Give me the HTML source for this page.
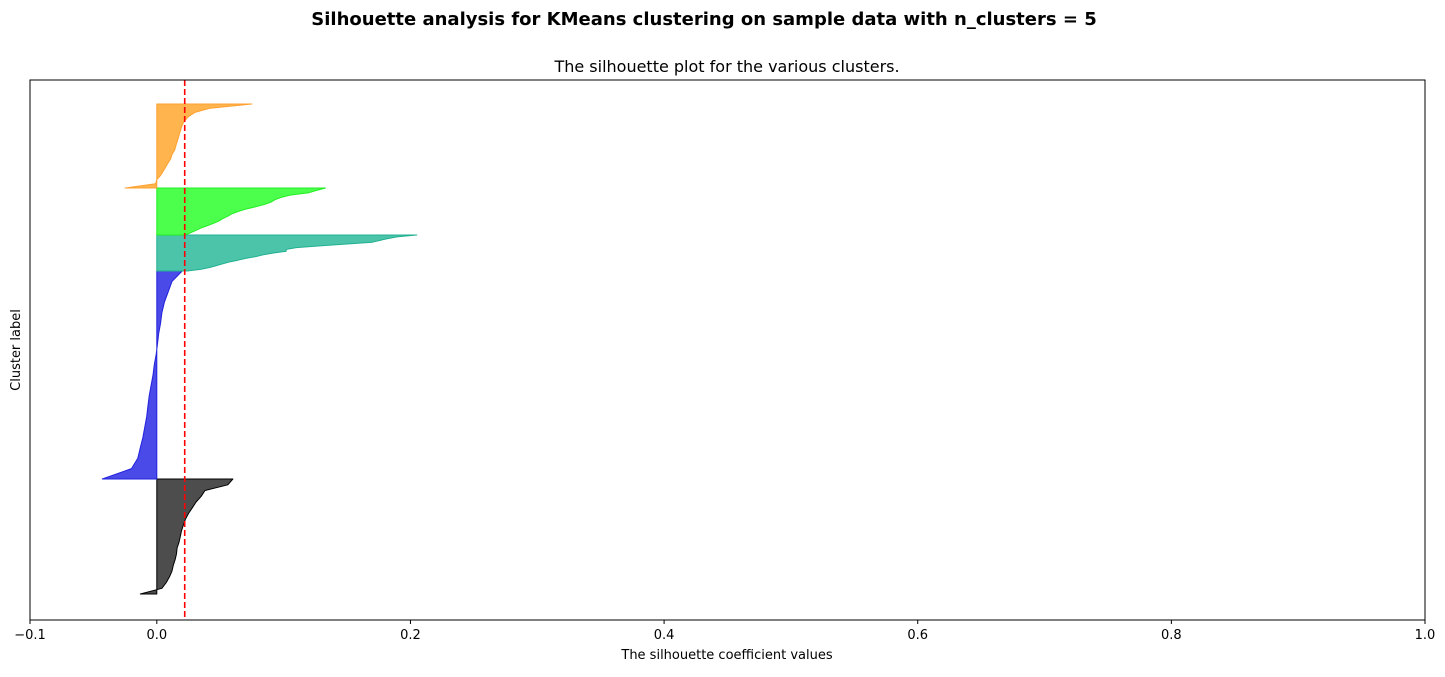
<!DOCTYPE html>
<html><head><meta charset="utf-8"><style>
body{margin:0;background:#fff;}
svg text{font-family:"DejaVu Sans","Liberation Sans",sans-serif;fill:#000;}
</style></head><body>
<svg id="chart" width="1445" height="672" xmlns="http://www.w3.org/2000/svg">
<text x="704" y="25" text-anchor="middle" font-size="18" font-weight="bold">Silhouette analysis for KMeans clustering on sample data with n_clusters = 5</text>
<text x="727" y="72" text-anchor="middle" font-size="16">The silhouette plot for the various clusters.</text>
<g id="marks"></g>
<rect x="30" y="80" width="1395" height="540" fill="none" stroke="#000" stroke-width="1"/>
<g id="ticks"></g>
<text x="727" y="659" text-anchor="middle" font-size="13">The silhouette coefficient values</text>
<text x="20" y="350" text-anchor="middle" font-size="13" transform="rotate(-90 20 350)">Cluster label</text>
</svg>
<script>
const clusterNames = ["cluster-0","cluster-1","cluster-2","cluster-3","cluster-4"];
const clusterSizes = [115, 208, 36, 47, 84];
const cluster0 = [-0.013,0.004,0.0075,0.01,0.012,0.013,0.0145,0.0155,0.016,0.0175,0.0185,0.0195,0.021,0.0225,0.025,0.028,0.031,0.035,0.038,0.056,0.06];
const cluster1 = [-0.043,-0.02,-0.015,-0.013,-0.011,-0.0095,-0.008,-0.007,-0.006,-0.0045,-0.003,-0.002,-0.0005,0.0005,0.0015,0.003,0.004,0.006,0.009,0.012,0.02];
const cluster2 = [0.024,0.035,0.042,0.047,0.052,0.057,0.064,0.07,0.078,0.084,0.092,0.102,0.102,0.11,0.13,0.15,0.17,0.176,0.182,0.19,0.205];
const cluster3 = [0.022,0.027,0.031,0.035,0.04,0.045,0.049,0.052,0.056,0.059,0.064,0.07,0.078,0.085,0.09,0.093,0.098,0.105,0.12,0.126,0.133];
const cluster4 = [-0.025,-0.001,0.0,0.003,0.005,0.007,0.009,0.011,0.012,0.014,0.015,0.016,0.017,0.018,0.019,0.02,0.022,0.025,0.03,0.042,0.075];
const silhouetteAvg = 0.022;
const xTicks = [-0.1,0,0.2,0.4,0.6,0.8,1.0];
const xTickLabels = ["−0.1","0.0","0.2","0.4","0.6","0.8","1.0"];
const colors = ["#4d4d4d","#4a4ae8","#4cc4aa","#4dff4d","#ffb44d"];
const strokes = ["#000000","#2222dd","#20b090","#22ee22","#ffa030"];
const series=[cluster0,cluster1,cluster2,cluster3,cluster4];
const ns="http://www.w3.org/2000/svg";
const X0=30,X1=1425,XMIN=-0.1,XMAX=1.0;
const Y0=620,Y1=80,YMIN=0,YMAX=540;
function xs(v){return X0+(v-XMIN)/(XMAX-XMIN)*(X1-X0);}
function ys(v){return Y0-(v-YMIN)/(YMAX-YMIN)*(Y0-Y1);}
const marks=document.getElementById('marks');
let yLower=26;
series.forEach((vals,i)=>{
  const n=vals.length, size=clusterSizes[i], yUpper=yLower+size;
  let pts=[[xs(0),ys(yLower)]];
  vals.forEach((v,j)=>{
    const yy=yLower+size*j/(n-1);
    pts.push([xs(v),ys(yy)]);
  });
  pts.push([xs(0),ys(yUpper)]);
  const p=document.createElementNS(ns,'polygon');
  p.setAttribute('points',pts.map(q=>q[0].toFixed(1)+','+q[1].toFixed(1)).join(' '));
  p.setAttribute('fill',colors[i]);
  p.setAttribute('stroke',strokes[i]);
  p.setAttribute('stroke-width','1');
  p.setAttribute('stroke-linejoin','round');
  
  
  marks.appendChild(p);
  yLower=yUpper;
});
const avg=document.createElementNS(ns,'line');
avg.setAttribute('x1',xs(silhouetteAvg));avg.setAttribute('x2',xs(silhouetteAvg));
avg.setAttribute('y1',Y1);avg.setAttribute('y2',Y0);
avg.setAttribute('stroke','#ff0000');avg.setAttribute('stroke-width','1.6');avg.setAttribute('stroke-dasharray','6,3');


marks.appendChild(avg);
const tg=document.getElementById('ticks');
xTicks.forEach((t,i)=>{
  const l=document.createElementNS(ns,'line');
  l.setAttribute('x1',xs(t));l.setAttribute('x2',xs(t));l.setAttribute('y1',Y0);l.setAttribute('y2',Y0+4);
  l.setAttribute('stroke','#000');
  
  
  tg.appendChild(l);
  const tx=document.createElementNS(ns,'text');
  tx.setAttribute('x',xs(t));tx.setAttribute('y',Y0+19);tx.setAttribute('text-anchor','middle');tx.setAttribute('font-size','13');
  tx.textContent=xTickLabels[i];
  
  
  tg.appendChild(tx);
});
</script>
</body></html>
